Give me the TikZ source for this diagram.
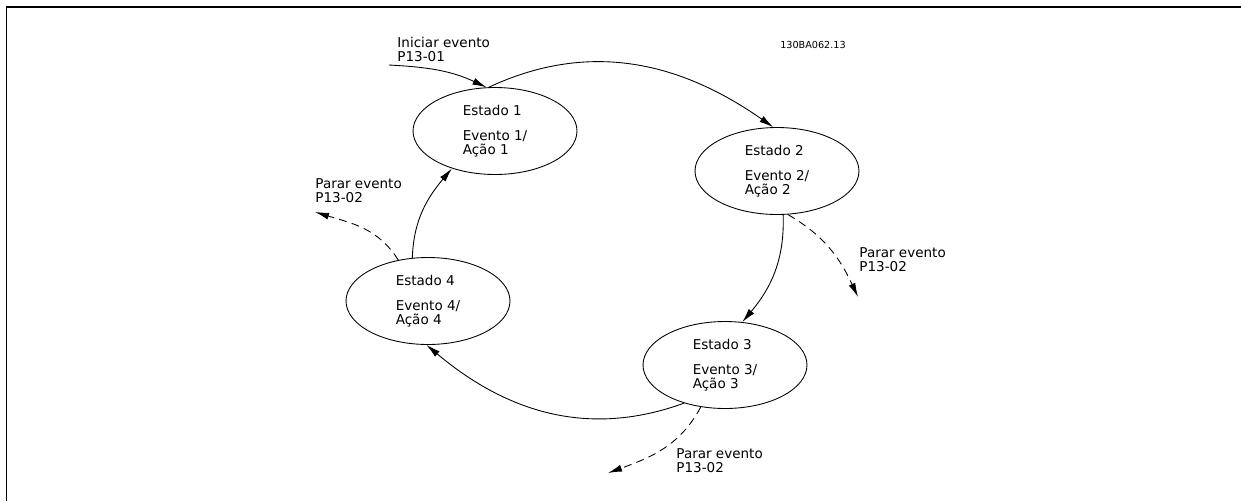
\documentclass[tikz,border=0pt]{standalone}
\usepackage{fontspec}
\setmainfont{DejaVu Sans}
\usetikzlibrary{arrows.meta,shapes.geometric}

\begin{document}
\begin{tikzpicture}[x=0.02cm,y=0.02cm,>={Latex[length=8pt,width=4pt]},
   font=\fontsize{7.7}{8}\selectfont,line width=0.5pt,
   st/.style={ellipse,draw,minimum width=3.28cm,minimum height=1.74cm,inner sep=0pt,align=left},
   lab/.style={anchor=west,align=left,inner sep=0pt},
   stopline/.style={->,dash pattern=on 4.5pt off 3pt}]
  \useasboundingbox (0,0) rectangle (1241,-501);
  \draw[line width=1pt] (6.5,-501) -- (6.5,-7.3) -- (1241,-7.3);
  \node[font=\fontsize{5.5}{6}\selectfont] (code) at (813,-45) {130BA062.13};
  % states
  \node[st] (s1) at (495,-131) {Estado 1\\[6pt]Evento 1/\\Ação 1};
  \node[st] (s2) at (777,-171) {Estado 2\\[6pt]Evento 2/\\Ação 2};
  \node[st] (s3) at (725,-365) {Estado 3\\[6pt]Evento 3/\\Ação 3};
  \node[st] (s4) at (428,-301) {Estado 4\\[6pt]Evento 4/\\Ação 4};
  % labels
  \node[lab] (l0) at (397,-49) {Iniciar evento\\P13-01};
  \node[lab] (l2) at (859,-259.5) {Parar evento\\P13-02};
  \node[lab] (l3) at (676,-461) {Parar evento\\P13-02};
  \node[lab] (l4) at (315,-191) {Parar evento\\P13-02};
  \coordinate (c0) at (389,-65);
  \coordinate (d2) at (858,-297);
  \coordinate (d3) at (608,-473);
  \coordinate (d4) at (315,-212);
  % transitions
  \draw[->] (c0) to[out=-3,in=155] (s1.101);
  \draw[->] (s1.98) to[out=25,in=145] (s2.95);
  \draw[->] (s2.278) to[out=-88,in=50] (s3.68);
  \draw[->] (s3.223) to[out=200,in=-40] (s4.268);
  \draw[->] (s4.110) to[out=88,in=230] (s1.221);
  \draw[stopline] (s2.284) to[out=-30,in=115] (d2);
  \draw[stopline] (s3.240) to[out=242,in=20] (d3);
  \draw[stopline] (s4.126) to[out=122,in=-17] (d4);
\end{tikzpicture}
\end{document}
